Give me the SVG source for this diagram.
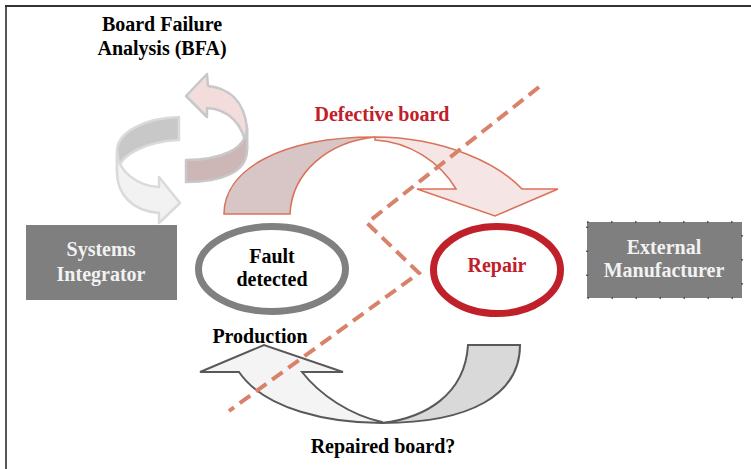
<svg xmlns="http://www.w3.org/2000/svg" width="751" height="469" viewBox="0 0 751 469">
<style>
.t{font-family:"Liberation Serif","Times New Roman",serif;font-weight:bold;font-size:20px;text-anchor:middle}
.blk{fill:#000}
.red{fill:#c0202a}
.wht{fill:#f2f2f2}
.def{stroke:#d9735a;stroke-width:1.6;stroke-linejoin:miter}
.rep{stroke:#595959;stroke-width:2;stroke-linejoin:miter}
.bfaP{stroke:#c8c8c8;stroke-width:2.5;stroke-linejoin:round}
.bfaG{stroke:#dadada;stroke-width:2.5;stroke-linejoin:round}
</style>
<rect width="751" height="469" fill="#fff"/>
<g id="frame">
<line x1="6" y1="5" x2="6" y2="469" stroke="#555" stroke-width="2"/>
<line x1="5" y1="6" x2="751" y2="6" stroke="#333" stroke-width="1.8"/>
</g>
<g id="connectors">
<g id="bfa-cycle">
<path class="bfaG" fill="#c8c8c8" d="M179,117 C145,118 118,132 117,150 L117,172 C120,153 150,141 179,140 Z"/>
<path class="bfaG" fill="#f2f2f2" d="M117,152 C118,172 138,186 159,187 L159,177 L180,203 L159,223 L159,213 C132,211 117,194 117,172 Z"/>
<path class="bfaP" fill="#f2dcdc" d="M208,86 L207,74 L186,96 L207,117 L207,108 C228,109 244,124 247,150 L247,128 C244,100 228,88 208,86 Z"/>
<path class="bfaP" fill="#ccb6b6" d="M247,128 C246,150 220,160 186,160 L186,182 C222,182 247,172 247,150 Z"/>
</g>
<g id="defective-arrow">
<path class="def" fill="#d8c5c5" d="M224,214 C224,170 280,137 375,137 C328,142 292,172 290,214 Z"/>
<path class="def" fill="#f6e5e5" d="M375,137 C445,137 500,165 522,189 L558,189 L495,216 L417,189 L456,189 C440,162 410,142 375,140 Z"/>
</g>
<g id="repaired-arrow">
<path class="rep" fill="#d9d9d9" d="M468,345 L520,345 C520,395 470,423 382,423 C425,418 465,395 468,345 Z"/>
<path class="rep" fill="#f4f4f4" d="M382,423 C330,423 265,410 239,372 L200,372 L264,345 L343,372 L302,372 C320,395 350,415 382,422 Z"/>
</g>
<polyline id="boundary" points="539,87 367,223 419,273 229,411" fill="none" stroke="#d9826a" stroke-width="4" stroke-dasharray="13 7"/>
</g>
<g id="bfa-label">
<text class="t blk" x="162" y="31">Board Failure</text>
<text class="t blk" x="162" y="55">Analysis (BFA)</text>
</g>
<g id="defective-label"><text class="t red" x="382" y="121">Defective board</text></g>
<g id="production-label"><text class="t blk" x="260" y="343">Production</text></g>
<g id="repaired-label"><text class="t blk" x="383" y="453">Repaired board?</text></g>
<g id="systems-integrator">
<rect x="26" y="225" width="151" height="75" fill="#7f7f7f"/>
<text class="t wht" x="101" y="256">Systems</text>
<text class="t wht" x="101" y="281">Integrator</text>
</g>
<g id="external-manufacturer">
<rect x="587" y="222" width="155" height="76" fill="#7f7f7f" stroke="#333" stroke-width="1.5" stroke-dasharray="1.5 22.5"/>
<text class="t wht" x="664" y="254">External</text>
<text class="t wht" x="664" y="277">Manufacturer</text>
</g>
<g id="fault-detected">
<ellipse cx="272" cy="269" rx="73.5" ry="42.5" fill="#fff" stroke="#808080" stroke-width="7"/>
<text class="t blk" x="272" y="263">Fault</text>
<text class="t blk" x="272" y="286">detected</text>
</g>
<g id="repair">
<ellipse cx="497" cy="270" rx="63.5" ry="43.5" fill="#fff" stroke="#c0202a" stroke-width="7"/>
<text class="t red" x="497" y="272">Repair</text>
</g>
</svg>
